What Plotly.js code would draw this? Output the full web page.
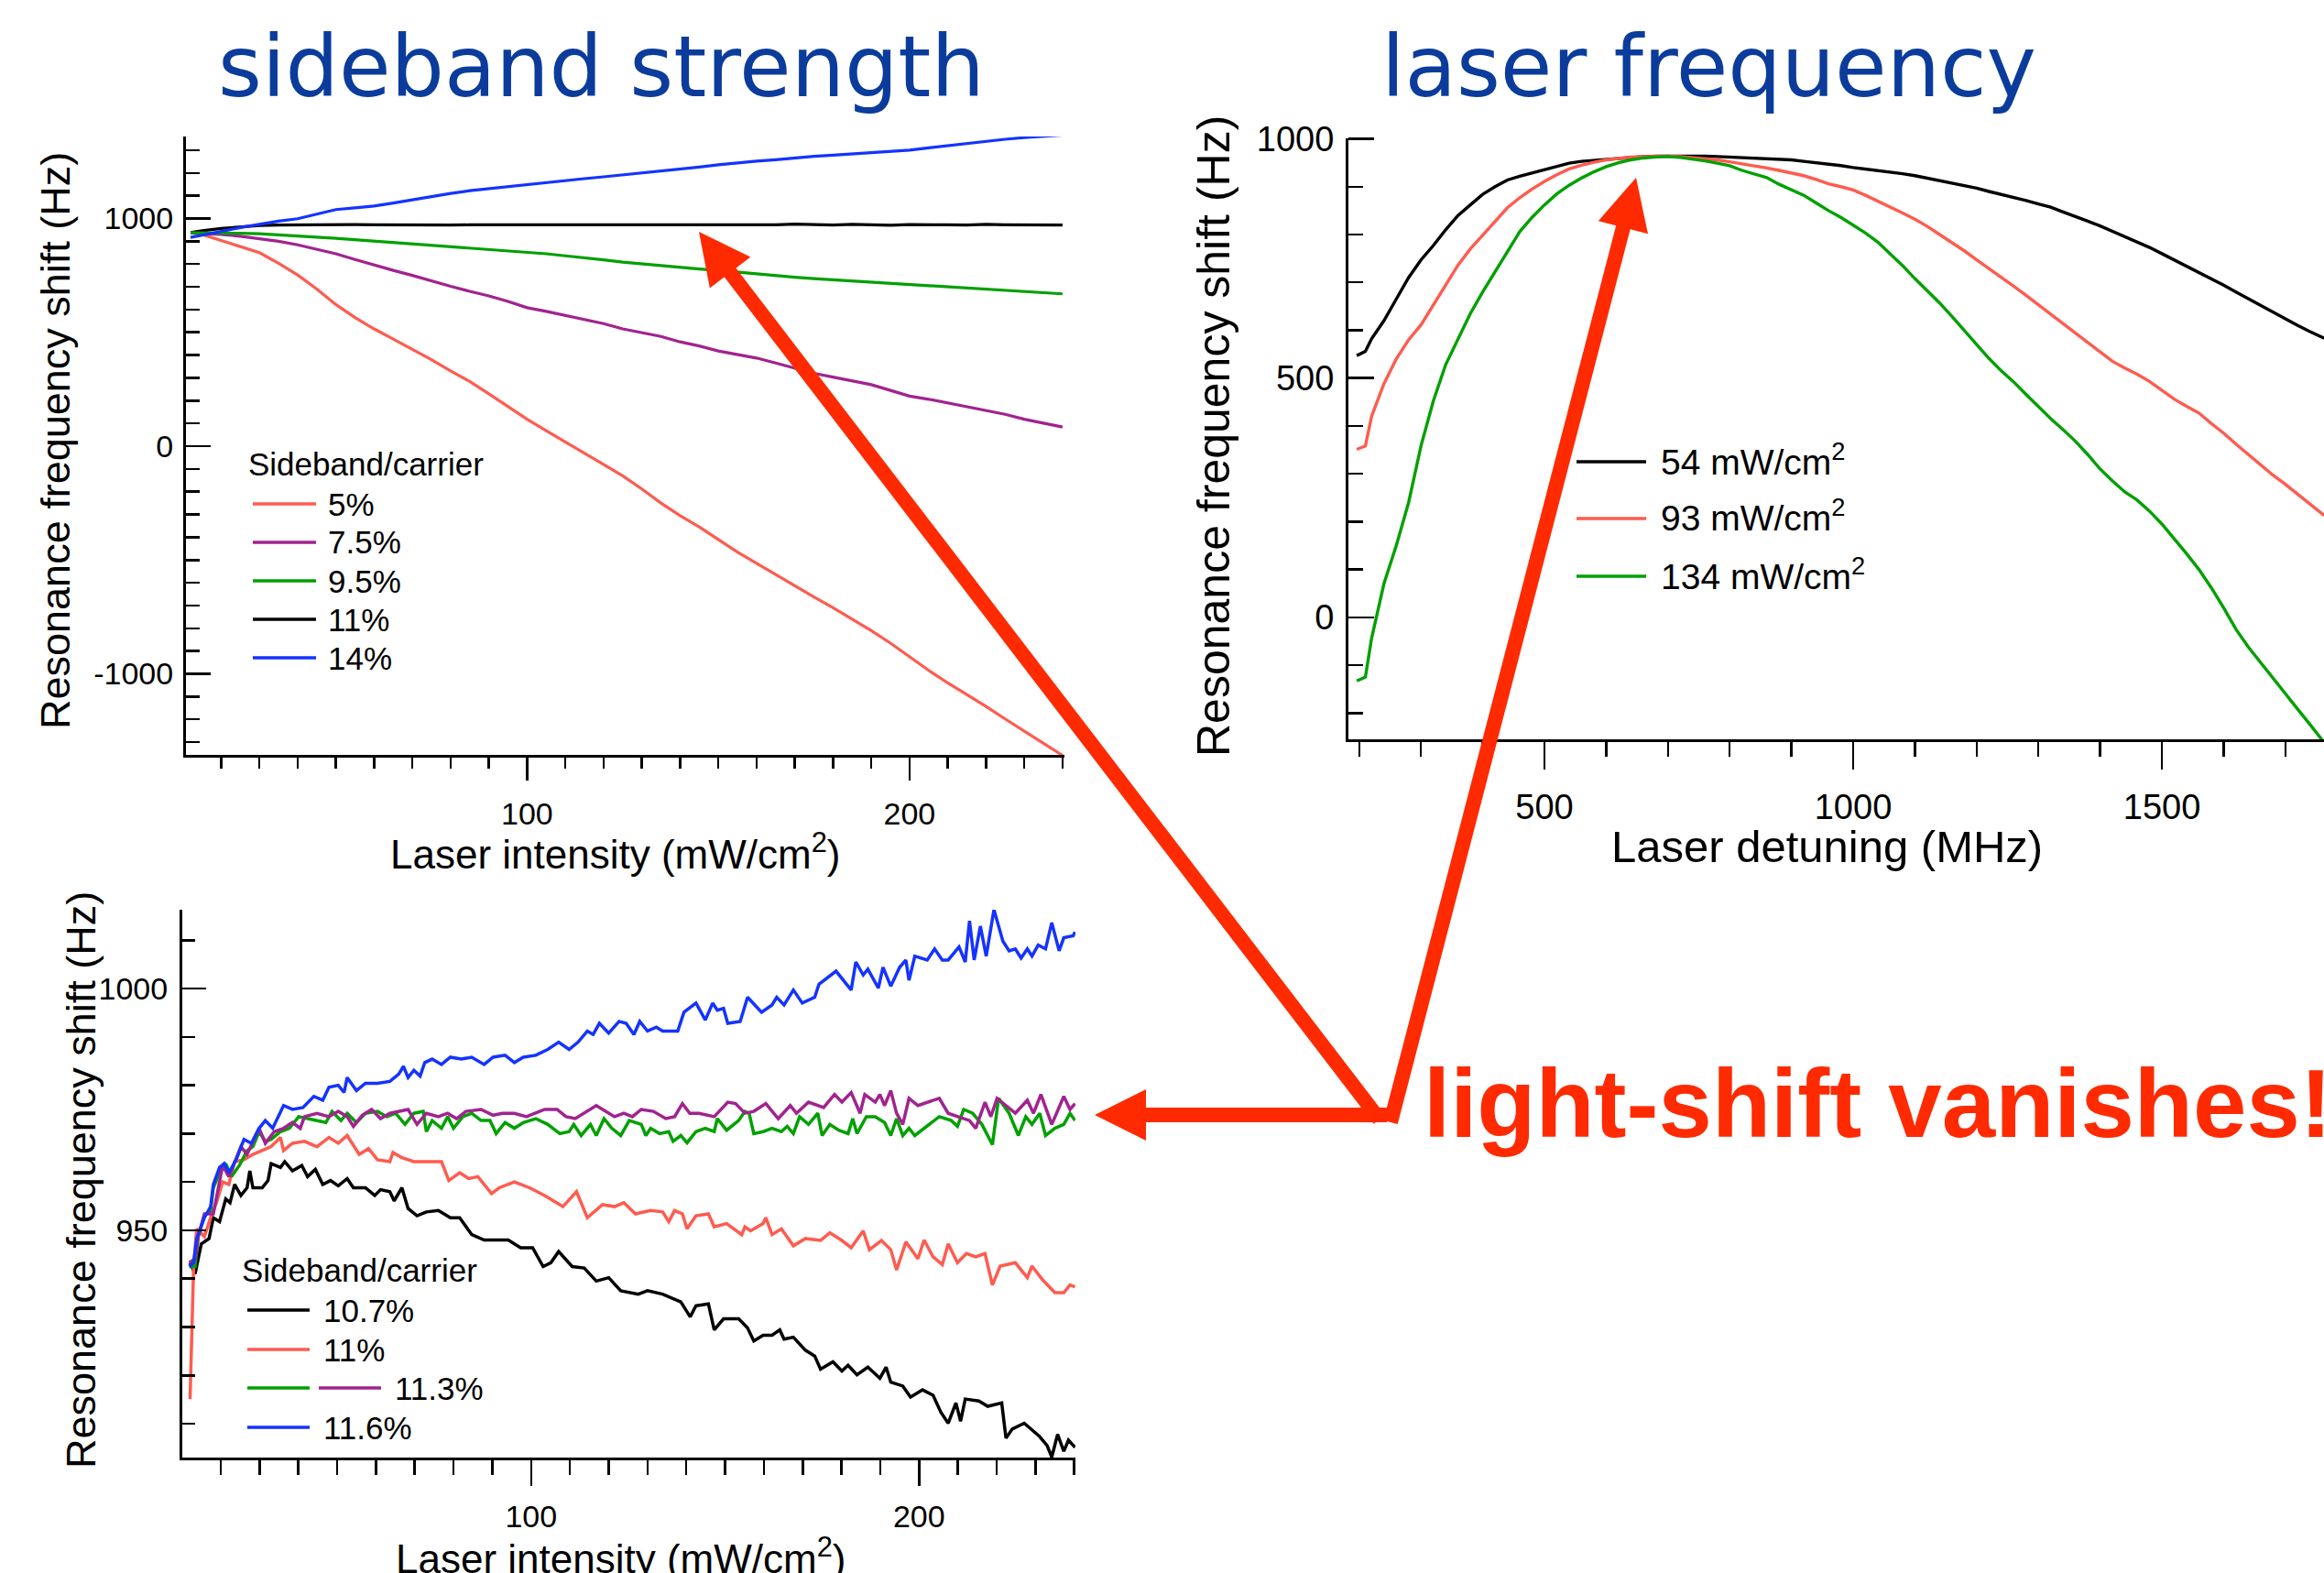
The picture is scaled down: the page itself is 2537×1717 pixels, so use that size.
<!DOCTYPE html>
<html>
<head>
<meta charset="utf-8">
<script src="https://cdn.plot.ly/plotly-3.0.1.min.js"></script>
<style>
  html, body { margin: 0; padding: 0; background: #ffffff; }
  #chart { width: 2537px; height: 1717px; }
</style>
</head>
<body>
<div id="chart"></div>
<script>
// ---------- Panel A: shift vs laser intensity for several sideband strengths ----------
const tlX = [12,15,20,25,30,35,40,45,50,55,60,65,70,75,80,85,90,95,100,105,110,115,120,125,130,135,140,145,150,155,160,165,170,175,180,185,190,195,200,205,210,215,220,225,230,235,240];
const tl5 = [937,930,903,878,850,803,752,690,622,565,515,470,426,380,330,284,230,175,118,68,18,-32,-80,-130,-188,-250,-305,-355,-410,-465,-515,-565,-612,-662,-710,-760,-810,-865,-925,-985,-1040,-1090,-1143,-1198,-1250,-1305,-1358];
const tl75 = [937,935,930,922,912,900,884,866,845,820,795,772,750,725,702,680,660,636,608,592,575,558,538,515,500,482,458,440,418,403,387,365,342,320,303,287,270,245,220,206,190,172,157,140,118,100,84];
const tl95 = [937,937,936,935,933,929,924,918,913,907,901,896,890,884,877,871,864,858,852,845,836,828,818,808,800,792,785,778,772,764,756,749,742,736,731,726,721,716,711,705,700,695,690,684,679,674,669];
const tl11 = [938,946,956,964,969,971,972,971,972,973,972,971,972,972,971,972,972,973,972,971,972,972,972,973,971,972,972,972,973,972,974,972,975,972,971,974,972,970,973,974,972,971,974,972,972,974,971];
const tl14 = [917,926,943,960,975,988,999,1018,1039,1047,1055,1068,1083,1095,1110,1122,1131,1140,1151,1158,1166,1175,1183,1191,1199,1209,1218,1226,1236,1245,1252,1258,1266,1273,1278,1284,1289,1294,1300,1310,1320,1330,1340,1348,1355,1361,1366];
const tlLegend = ['5%', '7.5%', '9.5%', '11%', '14%'];
const tlXTicks = [100, 200];
const tlYTicks = [-1000, 0, 1000];
const tlYTickText = ['-1000', '0', '1000'];

// ---------- Panel B: shift vs laser detuning for three intensities ----------
const trX = [196,210,220,240,260,280,300,320,340,360,380,400,420,440,460,480,500,520,540,560,580,600,620,640,660,680,700,720,740,760,780,800,820,840,860,880,900,920,940,960,980,1000,1020,1040,1060,1080,1100,1120,1140,1160,1180,1200,1220,1240,1260,1280,1300,1320,1340,1360,1380,1400,1420,1440,1460,1480,1500,1520,1540,1560,1580,1600,1620,1640,1660,1680,1700,1720,1740,1760,1763];
const tr54 = [547,556,582,620,665,710,747,777,810,840,862,884,900,914,922,929,936,942,949,953,955,957,959,962,963,964,964,965,964,964,963,962,961,960,959,957,956,953,950,948,944,940,937,934,931,927,923,918,913,908,903,897,890,884,877,871,864,857,847,838,828,818,807,796,785,773,760,747,734,720,707,694,680,666,651,637,623,610,597,585,583];
const tr93 = [351,358,420,488,540,580,611,652,695,736,770,799,828,856,877,895,911,925,937,945,951,956,959,962,963,964,964,963,961,959,956,952,948,944,939,934,929,923,915,906,900,893,882,870,858,845,832,817,800,783,766,747,729,710,692,673,653,633,613,593,573,553,535,521,508,493,475,456,441,427,405,385,362,340,318,297,278,258,238,216,213];
const tr134 = [-133,-125,-44,70,150,240,358,452,528,580,635,680,722,765,806,836,862,885,903,918,931,942,950,956,960,962,963,961,958,954,949,944,934,926,919,905,894,882,866,850,836,820,803,784,760,735,708,683,657,629,600,570,541,515,492,466,440,415,392,368,340,310,285,262,245,222,195,165,133,100,62,20,-25,-62,-95,-128,-160,-192,-224,-258,-262];
const trLegend = ['54 mW/cm<sup>2</sup>', '93 mW/cm<sup>2</sup>', '134 mW/cm<sup>2</sup>'];
const trXTicks = [500, 1000, 1500];
const trYTicks = [0, 500, 1000];

// ---------- Panel C: close-up around the zero-crossing sideband strength ----------
const blX107 = [12.1,13.4,15.0,17.0,18.1,19.7,21.3,22.4,23.6,25.2,26.8,27.5,28.3,30.7,32.2,33.0,35.4,36.5,38.5,40.9,42.4,44.4,46.3,48.3,50.3,52.6,54.2,57.3,59.7,61.2,63.6,64.7,66.7,68.3,70.6,73.0,76.1,79.2,81.6,84.7,87.9,90.2,94.1,97.3,100.4,103.1,105.1,107.1,110.6,113.7,116.8,120.0,123.1,127.6,130.0,133.9,136.3,138.6,141.0,142.5,145.7,147.2,149.6,153.5,155.8,157.4,159.8,162.1,164.1,165.2,167.6,170.7,173.1,174.6,177.8,180.1,181.7,184.0,186.8,189.9,191.5,192.7,195.8,197.8,200.9,203.6,205.6,207.5,209.5,210.7,211.9,215.4,217.7,221.3,222.4,224.0,227.1,229.5,231.0,233.0,234.2,235.7,237.3,238.5,240.2];
const blY107 = [943.3,941.0,947.2,948.3,952.6,951.8,956.5,955.7,959.5,957.2,958.8,962.3,958.8,958.8,960.3,963.8,963.0,964.2,962.3,963.4,961.1,962.6,959.5,960.3,959.2,960.7,958.8,958.8,957.2,958.4,958.0,956.1,958.8,954.5,953.0,953.8,954.1,952.6,952.6,949.1,948.0,948.0,948.0,946.4,946.4,942.5,943.3,945.6,942.5,942.2,939.5,940.2,937.5,936.8,937.5,936.8,936.0,935.2,932.1,934.4,934.8,929.4,931.7,931.7,929.8,927.1,928.3,928.3,929.4,927.5,927.9,925.2,924.0,921.3,922.8,920.9,922.1,920.1,921.7,919.4,921.7,918.6,917.8,915.5,917.0,915.9,912.4,910.1,914.3,910.5,915.1,914.7,913.6,914.3,907.0,908.9,910.1,908.5,907.4,905.5,903.1,907.8,904.3,906.6,905.1];

const blX110 = [12.1,12.6,13.0,13.8,15.8,17.4,18.9,20.5,22.1,23.6,26.0,28.3,30.7,33.0,35.4,36.2,38.5,41.6,44.8,47.9,50.3,52.6,55.7,58.1,60.4,63.6,64.4,66.7,69.8,73.8,76.9,78.8,81.6,83.9,86.3,89.8,91.8,95.7,99.6,103.5,108.2,111.7,114.5,118.4,121.5,123.9,126.9,130.8,133.9,135.5,137.0,139.0,140.2,142.5,145.7,147.2,150.4,154.3,155.1,156.6,159.8,160.5,162.1,164.5,167.6,170.7,174.6,177.0,180.1,182.5,185.6,187.2,190.3,192.7,194.2,196.6,199.7,201.3,203.6,206.0,207.5,209.9,212.2,214.6,217.0,218.9,220.9,224.8,227.9,229.1,231.8,235.0,237.3,238.9,240.2];
const blY110 = [915.1,927.9,941.8,950.3,948.7,952.6,955.7,960.0,959.5,964.2,964.6,965.7,966.5,967.3,969.2,966.5,968.0,968.4,967.3,969.2,968.0,969.6,965.7,966.9,964.6,964.2,966.1,965.0,964.2,964.2,964.2,960.3,961.9,960.7,961.1,957.6,958.8,960.0,958.8,957.2,954.9,958.0,952.6,955.3,954.9,955.7,953.4,954.1,953.8,951.8,954.1,953.4,950.3,953.0,953.4,950.7,951.4,949.1,950.7,949.9,951.4,952.6,949.1,950.3,946.8,948.3,947.9,949.5,947.9,946.4,949.9,946.0,947.9,946.0,941.8,947.6,944.1,948.0,944.5,942.9,947.2,943.3,945.2,944.5,945.2,938.7,942.6,943.3,940.2,942.6,939.8,937.1,937.1,938.7,938.3];

const blX113a = [11.9,13.4,14.2,15.8,17.4,18.1,19.7,21.3,22.8,24.8,26.8,28.3,29.9,31.5,33.0,35.4,37.7,40.1,42.4,44.8,47.1,48.7,51.0,52.6,55.0,57.3,60.4,62.8,65.1,67.5,69.8,72.2,73.0,74.5,76.9,78.5,80.0,82.4,84.7,87.1,89.4,91.0,93.3,95.7,98.0,101.2,104.3,107.4,109.8,111.0,112.9,115.3,116.8,118.8,120.8,123.1,125.3,128.4,129.6,130.8,133.1,135.5,136.6,138.6,140.2,142.5,144.9,147.2,148.0,150.4,153.5,155.1,156.2,157.4,159.8,162.1,164.5,166.0,167.6,169.2,171.5,173.9,175.0,177.0,179.3,181.7,182.9,184.0,186.4,188.7,191.1,192.7,194.2,195.8,197.4,198.9,201.3,202.8,205.2,208.3,209.9,211.5,213.8,216.2,218.9,220.5,223.2,225.6,227.5,229.1,231.1,232.6,235.0,237.3,238.9,240.2];
const blY113a = [942.5,942.5,948.7,953.0,954.1,958.8,961.9,963.8,961.1,963.4,966.5,967.3,970.4,968.4,968.8,970.4,971.1,973.5,973.1,972.7,972.3,974.6,972.7,974.2,972.3,974.2,974.6,973.5,974.2,971.9,974.2,974.6,970.4,972.7,971.1,973.5,971.1,973.5,974.2,972.7,972.7,970.0,972.3,971.1,972.3,973.1,971.9,970.0,970.4,971.9,969.6,971.9,969.6,973.1,971.1,969.6,972.7,971.9,969.6,971.1,970.0,970.4,968.4,969.6,968.1,970.4,971.1,970.4,973.1,970.7,972.7,974.6,974.2,970.0,970.4,971.1,970.4,971.5,970.0,973.5,971.9,974.2,969.6,971.9,970.7,970.0,973.1,970.0,973.5,973.5,972.3,969.6,973.1,969.6,971.1,969.6,971.1,971.9,973.5,972.7,971.5,975.0,974.2,971.9,967.7,977.3,974.2,969.6,973.5,971.9,974.2,969.6,971.1,971.9,974.2,972.7];

const blX113b = [11.9,13.4,14.2,15.8,18.1,20.5,22.1,25.2,26.8,29.9,31.5,33.8,36.2,38.5,40.5,41.6,44.8,47.9,50.3,52.6,54.2,56.5,58.9,61.2,63.6,65.9,68.3,70.6,73.0,76.1,78.5,80.8,83.2,87.1,90.2,92.6,95.7,98.8,101.2,103.5,106.7,109.0,111.4,113.7,116.8,119.2,121.5,123.9,126.1,128.4,131.5,134.7,137.0,139.0,140.9,143.3,147.2,150.7,152.7,155.1,157.4,160.5,163.7,166.8,168.4,171.5,173.9,175.4,178.2,180.1,182.5,184.8,186.0,188.7,189.9,191.1,192.7,194.2,195.8,197.4,199.7,202.1,205.2,207.5,209.9,213.0,214.6,217.0,218.5,220.1,222.4,224.8,227.9,229.5,231.4,234.2,237.3,238.9,240.2];
const blY113b = [943.3,944.1,948.7,953.4,953.4,963.4,961.1,967.3,965.7,971.1,968.0,970.4,971.1,972.3,971.1,973.5,974.2,973.5,974.6,973.5,971.5,973.8,975.0,973.1,974.2,974.6,975.0,971.9,974.2,973.5,974.2,973.1,974.6,975.0,973.8,974.2,974.2,973.5,974.2,975.0,975.0,973.5,973.1,974.2,975.8,974.6,973.5,974.2,973.5,975.0,974.6,973.1,973.5,976.2,974.2,974.2,973.5,976.5,976.2,974.2,974.6,976.2,973.1,975.8,974.2,976.5,975.8,975.4,978.1,976.5,978.5,974.2,978.1,976.5,978.1,975.8,978.9,974.2,971.9,977.3,975.8,976.5,977.3,974.2,973.5,972.7,971.1,976.5,973.5,977.3,975.8,974.2,976.9,974.2,978.1,971.9,977.7,975.0,976.2];

const blX116 = [11.9,13.0,13.8,15.8,17.4,18.1,19.7,20.9,22.1,24.0,26.0,27.9,29.9,31.5,33.4,36.2,38.5,41.2,44.0,46.3,47.9,50.3,51.8,52.6,55.0,57.3,60.4,63.6,65.9,67.1,68.3,69.8,71.4,72.6,74.5,76.9,79.2,82.0,84.7,87.9,90.2,93.3,95.7,98.0,101.2,104.3,107.1,109.8,112.1,114.5,116.0,117.6,120.0,122.7,124.5,126.5,128.0,130.0,132.3,133.9,137.8,139.4,142.5,144.9,146.8,148.0,149.6,150.7,153.9,155.8,159.4,162.1,163.3,165.2,167.6,169.9,173.1,174.2,178.6,182.5,183.7,185.6,186.8,189.5,190.7,192.7,195.0,196.6,197.4,198.9,202.1,204.0,206.0,207.5,210.3,211.9,213.0,214.2,215.8,217.3,219.3,221.6,223.2,224.8,226.3,227.9,229.1,230.7,232.6,234.2,236.1,237.3,239.7,240.2];
const blY116 = [942.5,943.3,948.3,952.6,954.9,959.5,963.0,963.8,961.9,964.6,968.8,968.0,971.1,972.7,971.1,975.8,975.0,975.4,977.7,976.9,979.6,980.0,978.5,981.6,978.9,980.4,980.4,980.8,982.3,983.9,981.6,983.1,981.9,984.7,985.4,984.3,985.8,985.4,985.8,984.3,985.8,986.2,984.7,985.8,986.2,987.4,988.9,987.4,988.9,991.2,990.5,992.8,990.8,993.2,992.8,990.5,993.2,991.2,992.0,991.2,991.2,995.1,997.0,993.5,997.0,995.5,995.9,992.8,993.2,998.2,995.1,996.6,998.2,996.6,999.7,997.0,998.2,1000.9,1003.6,999.7,1005.5,1002.8,1004.0,1000.1,1004.4,1000.5,1004.4,1005.9,1001.7,1006.7,1005.9,1008.2,1005.9,1005.9,1008.6,1005.5,1014.0,1005.9,1012.9,1006.7,1016.3,1009.8,1007.8,1008.2,1006.3,1008.2,1006.7,1009.0,1008.2,1013.6,1007.8,1010.5,1010.9,1011.7];
const blLegend = ['10.7%', '11%', '11.3%', '11.6%'];
const blXTicks = [100, 200];
const blYTicks = [950, 1000];

// ---------- page geometry helpers (pixel -> paper fraction) ----------
const W = 2537, H = 1717;
const px = v => v / W;
const py = v => 1 - v / H;

const FONT = 'Liberation Sans, Arial, Helvetica, sans-serif';
const TITLE_FONT = 'DejaVu Sans, Verdana, sans-serif';
const C_RED = '#FF5B4F', C_PURPLE = '#A1238F', C_GREEN = '#00A000', C_BLACK = '#000000', C_BLUE = '#1433FF';
const C_NOTE = '#FF2A00', C_TITLE = '#0B3C9C';

function line(x, y, xa, ya, color, width, name) {
  return {x: x, y: y, xaxis: xa, yaxis: ya, type: 'scatter', mode: 'lines', name: name,
          line: {color: color, width: width}, hoverinfo: 'x+y+name'};
}

const traces = [
  line(tlX, tl11, 'x', 'y', C_BLACK, 3.2, tlLegend[3]),
  line(tlX, tl5, 'x', 'y', C_RED, 3.2, tlLegend[0]),
  line(tlX, tl75, 'x', 'y', C_PURPLE, 3.2, tlLegend[1]),
  line(tlX, tl95, 'x', 'y', C_GREEN, 3.2, tlLegend[2]),
  line(tlX, tl14, 'x', 'y', C_BLUE, 3.2, tlLegend[4]),

  line(trX, tr54, 'x2', 'y2', C_BLACK, 3.4, '54 mW/cm²'),
  line(trX, tr93, 'x2', 'y2', C_RED, 3.4, '93 mW/cm²'),
  line(trX, tr134, 'x2', 'y2', C_GREEN, 3.4, '134 mW/cm²'),

  line(blX107, blY107, 'x3', 'y3', C_BLACK, 3.5, blLegend[0]),
  line(blX110, blY110, 'x3', 'y3', C_RED, 3.5, blLegend[1]),
  line(blX113a, blY113a, 'x3', 'y3', C_GREEN, 3.5, blLegend[2]),
  line(blX113b, blY113b, 'x3', 'y3', C_PURPLE, 3.5, blLegend[2]),
  line(blX116, blY116, 'x3', 'y3', C_BLUE, 3.5, blLegend[3])
];

function axis(o) {
  return Object.assign({
    showline: true, linecolor: '#000', linewidth: 3,
    showgrid: false, zeroline: false, fixedrange: true,
    tickcolor: '#000', tickwidth: 2.5, tickmode: 'array',
    tickfont: {family: FONT, size: 34, color: '#000'}
  }, o);
}
function minor(dtick, len, side) {
  return {dtick: dtick, tick0: 0, ticks: side, ticklen: len, tickwidth: 2.5, tickcolor: '#000', showgrid: false};
}

const layout = {
  width: W, height: H,
  margin: {l: 0, r: 0, t: 0, b: 0, pad: 0},
  paper_bgcolor: '#ffffff', plot_bgcolor: 'rgba(0,0,0,0)',
  showlegend: false,
  xaxis: axis({domain: [px(203), px(1162)], range: [10.8, 240.5], anchor: 'y',
    tickvals: tlXTicks, ticktext: tlXTicks.map(String), ticks: 'outside', ticklen: 25,
    ticklabelstandoff: 7, minor: minor(10, 12, 'outside')}),
  yaxis: axis({domain: [py(824), py(149)], range: [-1356, 1360], anchor: 'x',
    tickvals: tlYTicks, ticktext: tlYTickText, ticks: 'inside', ticklen: 27,
    ticklabelstandoff: 4, minor: minor(100, 15, 'inside')}),
  xaxis2: axis({domain: [px(1472), 1], range: [182.5, 1762.6], anchor: 'y2',
    tickvals: trXTicks, ticktext: trXTicks.map(String), ticks: 'outside', ticklen: 30,
    ticklabelstandoff: 8, tickfont: {family: FONT, size: 38, color: '#000'},
    minor: minor(100, 16, 'outside')}),
  yaxis2: axis({domain: [py(807), py(150.5)], range: [-255, 1002], anchor: 'x2',
    tickvals: trYTicks, ticktext: trYTicks.map(String), ticks: 'inside', ticklen: 28,
    ticklabelstandoff: 5, tickfont: {family: FONT, size: 38, color: '#000'},
    minor: minor(100, 16, 'inside')}),
  xaxis3: axis({domain: [px(199), px(1174)], range: [10.1, 240.3], anchor: 'y3',
    tickvals: blXTicks, ticktext: blXTicks.map(String), ticks: 'outside', ticklen: 28,
    ticklabelstandoff: 4, minor: minor(10, 16, 'outside')}),
  yaxis3: axis({domain: [py(1591), py(993)], range: [903, 1016.3], anchor: 'x3',
    tickvals: blYTicks, ticktext: blYTicks.map(String), ticks: 'inside', ticklen: 26,
    ticklabelstandoff: 6, minor: minor(10, 14, 'inside')}),
  annotations: [],
  shapes: []
};

function note(text, x, y, size, opts) {
  layout.annotations.push(Object.assign({
    text: text, x: px(x), y: py(y), xref: 'paper', yref: 'paper', showarrow: false,
    xanchor: 'center', yanchor: 'middle', font: {family: FONT, size: size, color: '#000'}
  }, opts || {}));
}
function swatch(x0, x1, y, color) {
  layout.shapes.push({type: 'line', xref: 'paper', yref: 'paper', x0: px(x0), x1: px(x1),
    y0: py(y), y1: py(y), line: {color: color, width: 3.5}});
}

// panel headings
note('sideband strength', 656, 73, 92, {font: {family: TITLE_FONT, size: 92, color: C_TITLE}});
note('laser frequency', 1865, 73, 92, {font: {family: TITLE_FONT, size: 92, color: C_TITLE}});

// axis titles
const yTitle = 'Resonance frequency shift (Hz)';
note(yTitle, 60, 481, 45, {textangle: -90});
note(yTitle, 1325, 476, 50, {textangle: -90});
note(yTitle, 88, 1288, 45, {textangle: -90});
note('Laser intensity (mW/cm<sup>2</sup>)', 671, 929, 44);
note('Laser detuning (MHz)', 1994, 924, 49);
note('Laser intensity (mW/cm<sup>2</sup>)', 677, 1698, 44);

// legend, panel A
note('Sideband/carrier', 269, 507, 35, {xanchor: 'left'});
const tlColors = [C_RED, C_PURPLE, C_GREEN, C_BLACK, C_BLUE];
const tlRows = [550, 592, 634, 676, 718];
tlLegend.forEach((t, i) => {
  swatch(276, 345, tlRows[i], tlColors[i]);
  note(t, 356, tlRows[i], 35, {xanchor: 'left'});
});

// legend, panel B
const trColors = [C_BLACK, C_RED, C_GREEN];
const trRows = [504, 566, 629];
trLegend.forEach((t, i) => {
  swatch(1721, 1797, trRows[i], trColors[i]);
  note(t, 1811, trRows[i] - 3, 39, {xanchor: 'left'});
});

// legend, panel C
note('Sideband/carrier', 262, 1386, 35, {xanchor: 'left'});
const blRows = [1430, 1473, 1515, 1558];
swatch(270, 338, blRows[0], C_BLACK);
note(blLegend[0], 351, blRows[0], 35, {xanchor: 'left'});
swatch(270, 338, blRows[1], C_RED);
note(blLegend[1], 351, blRows[1], 35, {xanchor: 'left'});
swatch(270, 338, blRows[2], C_GREEN);
swatch(348, 416, blRows[2], C_PURPLE);
note(blLegend[2], 429, blRows[2], 35, {xanchor: 'left'});
swatch(270, 338, blRows[3], C_BLUE);
note(blLegend[3], 351, blRows[3], 35, {xanchor: 'left'});

// conclusion text and the three pointers
note('light-shift vanishes!', 1552, 1204, 105,
  {xanchor: 'left', font: {family: FONT, size: 105, color: C_NOTE, weight: 700}});

const HEAD_LEN = 56, HEAD_W = 56, BODY_W = 16;
function pointer(tail, tip) {
  const dx = tail[0] - tip[0], dy = tail[1] - tip[1];
  const len = Math.hypot(dx, dy);
  const ux = dx / len, uy = dy / len;
  const bx = tip[0] + ux * HEAD_LEN, by = tip[1] + uy * HEAD_LEN;
  const nx = -uy, ny = ux;
  const c1 = [bx + nx * HEAD_W / 2, by + ny * HEAD_W / 2];
  const c2 = [bx - nx * HEAD_W / 2, by - ny * HEAD_W / 2];
  layout.shapes.push({type: 'line', xref: 'paper', yref: 'paper',
    x0: px(bx - ux * 3), y0: py(by - uy * 3), x1: px(tail[0]), y1: py(tail[1]),
    line: {color: C_NOTE, width: BODY_W}});
  layout.shapes.push({type: 'path', xref: 'paper', yref: 'paper',
    path: 'M' + px(tip[0]) + ',' + py(tip[1]) + ' L' + px(c1[0]) + ',' + py(c1[1]) +
          ' L' + px(c2[0]) + ',' + py(c2[1]) + ' Z',
    fillcolor: C_NOTE, line: {width: 0}});
}
pointer([1514, 1217], [1195, 1217]);
pointer([1506, 1222], [763, 253]);
pointer([1518, 1225], [1786, 194]);

Plotly.newPlot('chart', traces, layout, {displayModeBar: false, staticPlot: true});
</script>
</body>
</html>
